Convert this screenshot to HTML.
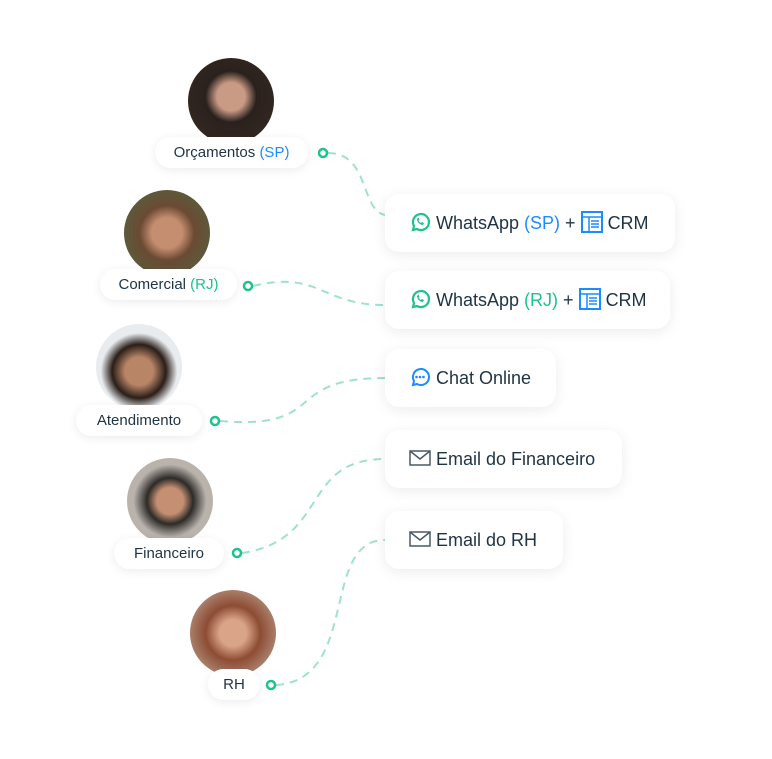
<!DOCTYPE html>
<html><head><meta charset="utf-8"><style>
body{margin:0;width:772px;height:759px;background:#fff;position:relative;overflow:hidden;font-family:"Liberation Sans",sans-serif;color:#1f3344}
.av{position:absolute;border-radius:50%;width:86px;height:86px;overflow:hidden}
.pill{position:absolute;height:31px;background:#fff;border-radius:16px;box-shadow:0 2px 10px rgba(0,0,0,.08);font-size:15px;line-height:31px;text-align:center;font-weight:500}
.card{position:absolute;height:58px;background:#fff;border-radius:14px;box-shadow:0 3px 14px rgba(0,0,0,.08);font-size:18px;line-height:58px;padding-left:24px;box-sizing:border-box;white-space:nowrap}
.card svg{vertical-align:middle;margin-right:5px;position:relative;top:-2px}
.b{color:#1a8cff}.g{color:#1ec28b}
</style></head><body>
<svg style="position:absolute;left:0;top:0" width="772" height="759">
<g fill="none" stroke="#9fe3c6" stroke-width="2" stroke-dasharray="8 6">
<path d="M328 153 C370 153 360 210 385 215"/>
<path d="M253 286 C320 270 320 305 385 305"/>
<path d="M220 421 C330 430 280 378 385 378"/>
<path d="M242 553 C330 540 300 459 385 459"/>
<path d="M276 685 C360 680 320 540 385 540"/>
</g>
<g fill="#fff" stroke="#1ec28b" stroke-width="2.5">
<circle cx="323" cy="153" r="4"/><circle cx="248" cy="286" r="4"/><circle cx="215" cy="421" r="4"/><circle cx="237" cy="553" r="4"/><circle cx="271" cy="685" r="4"/>
</g></svg>
<div class="av" style="top:58px;left:188px;background:radial-gradient(circle at 50% 45%,#c99a84 0 22%,#2a211e 40%,#3a2b22)"></div>
<div class="av" style="left:124px;top:190px;background:radial-gradient(circle at 50% 50%,#c58e70 0 25%,#6b4a33 45%,#4e6a45)"></div>
<div class="av" style="left:96px;top:324px;background:radial-gradient(circle at 50% 55%,#b98567 0 22%,#2a1e18 42%,#e8ecef 60%)"></div>
<div class="av" style="left:127px;top:458px;background:radial-gradient(circle at 50% 50%,#c48f72 0 22%,#2d2a28 38%,#b9b3ac 60%)"></div>
<div class="av" style="left:190px;top:590px;background:radial-gradient(circle at 50% 50%,#d9a488 0 22%,#8d4c33 45%,#c9b9ac)"></div>
<div class="pill" style="left:155px;top:137px;width:153px">Orçamentos <span class="b">(SP)</span></div>
<div class="pill" style="left:100px;top:269px;width:137px">Comercial <span class="g">(RJ)</span></div>
<div class="pill" style="left:76px;top:405px;width:126px">Atendimento</div>
<div class="pill" style="left:114px;top:538px;width:110px">Financeiro</div>
<div class="pill" style="left:208px;top:669px;width:52px">RH</div>
<div class="card" style="left:385px;top:194px;width:290px"><svg width="22" height="22" viewBox="0 0 22 22"><path d="M4 19 L5 15 A8 8 0 1 1 8 18 Z" fill="none" stroke="#1ec28b" stroke-width="2.2"/><path d="M8 8 c0 3 3 6 6 6 l1-2 -2-1 -1 1 c-1-.5-2-1.5-2.5-2.5 l1-1 -1-2z" fill="#1ec28b"/></svg>WhatsApp <span class="b">(SP)</span> + <svg width="22" height="22" viewBox="0 0 22 22"><rect x="1" y="1" width="20" height="20" fill="none" stroke="#1a8cff" stroke-width="2"/><path d="M1 6h20M8 6v15M10 10h8M10 13h8M10 16h8" stroke="#1a8cff" stroke-width="1.5"/></svg>CRM</div>
<div class="card" style="left:385px;top:271px;width:285px"><svg width="22" height="22" viewBox="0 0 22 22"><path d="M4 19 L5 15 A8 8 0 1 1 8 18 Z" fill="none" stroke="#1ec28b" stroke-width="2.2"/><path d="M8 8 c0 3 3 6 6 6 l1-2 -2-1 -1 1 c-1-.5-2-1.5-2.5-2.5 l1-1 -1-2z" fill="#1ec28b"/></svg>WhatsApp <span class="g">(RJ)</span> + <svg width="22" height="22" viewBox="0 0 22 22"><rect x="1" y="1" width="20" height="20" fill="none" stroke="#1a8cff" stroke-width="2"/><path d="M1 6h20M8 6v15M10 10h8M10 13h8M10 16h8" stroke="#1a8cff" stroke-width="1.5"/></svg>CRM</div>
<div class="card" style="left:385px;top:349px;width:171px"><svg width="22" height="22" viewBox="0 0 22 22"><path d="M4 19 L5 15 A8 8 0 1 1 8 18 Z" fill="none" stroke="#1a8cff" stroke-width="2"/><circle cx="7.5" cy="11" r="1.3" fill="#1a8cff"/><circle cx="11" cy="11" r="1.3" fill="#1a8cff"/><circle cx="14.5" cy="11" r="1.3" fill="#1a8cff"/></svg>Chat Online</div>
<div class="card" style="left:385px;top:430px;width:237px"><svg width="22" height="18" viewBox="0 0 22 18"><rect x="1" y="2" width="20" height="14" fill="none" stroke="#4a5a66" stroke-width="1.5"/><path d="M1 2l10 8 10-8" fill="none" stroke="#4a5a66" stroke-width="1.5"/></svg>Email do Financeiro</div>
<div class="card" style="left:385px;top:511px;width:178px"><svg width="22" height="18" viewBox="0 0 22 18"><rect x="1" y="2" width="20" height="14" fill="none" stroke="#4a5a66" stroke-width="1.5"/><path d="M1 2l10 8 10-8" fill="none" stroke="#4a5a66" stroke-width="1.5"/></svg>Email do RH</div>
</body></html>
